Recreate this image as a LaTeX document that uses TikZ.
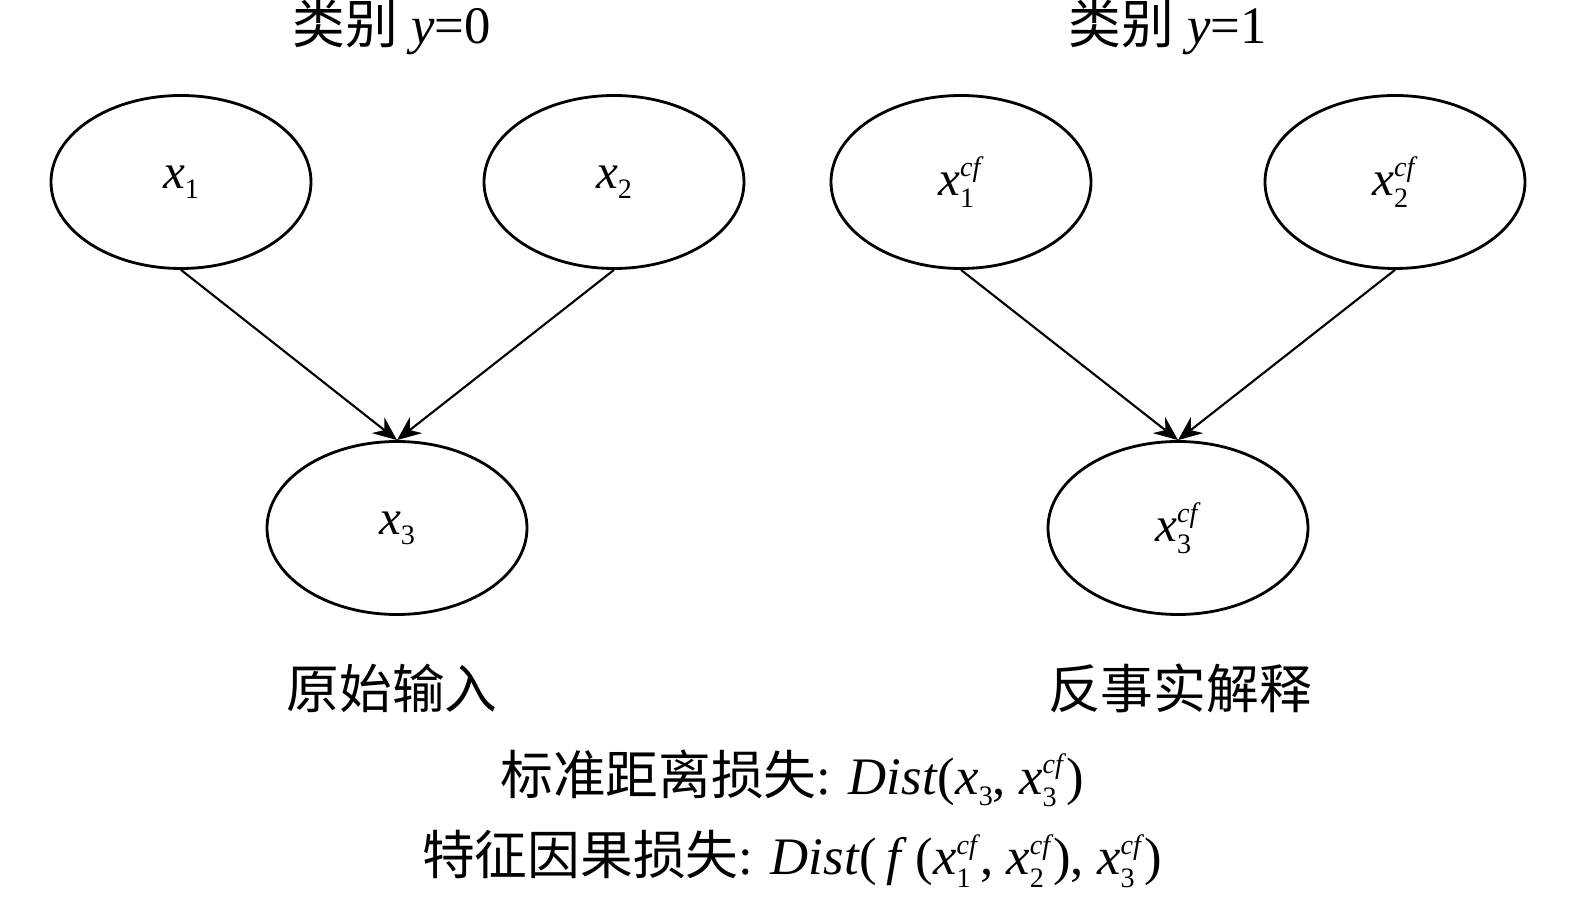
\documentclass[tikz,border=0pt]{standalone}
\usepackage{fontspec}
\setmainfont{Liberation Serif}
\newfontfamily\cjk{Noto Sans CJK SC}
\usetikzlibrary{arrows.meta,shapes.geometric}
% variable with subscript, and with subscript plus cf superscript
\newcommand{\xsub}[1]{\textit{x}\raisebox{-0.45ex}{\footnotesize #1}}
\newcommand{\xcf}[1]{\textit{x}\makebox[0pt][l]{\raisebox{-0.5ex}{\footnotesize #1}}\raisebox{0.85ex}{\footnotesize\textit{cf}}}
\begin{document}
\begin{tikzpicture}[
    every node/.style={font=\fontsize{15}{17}\selectfont},
    var/.style={draw, ellipse, line width=0.8pt, minimum width=2.6cm, minimum height=1.73cm, inner sep=0pt, font=\fontsize{14}{16}\selectfont},
    edge/.style={line width=0.6pt, -{Stealth[length=2.4mm,width=2mm]}}
  ]
  \useasboundingbox (0,0) rectangle (15.75,9.03);

  % original input
  \node[var] (x1) at (1.81,7.21) {\xsub{1}};
  \node[var] (x2) at (6.14,7.21) {\xsub{2}};
  \node[var] (x3) at (3.97,3.75) {\xsub{3}};

  % counterfactual explanation
  \node[var] (c1) at (9.61,7.21) {\xcf{1}};
  \node[var] (c2) at (13.95,7.21) {\xcf{2}};
  \node[var] (c3) at (11.78,3.75) {\xcf{3}};

  \draw[edge] (x1.south) -- (x3.north);
  \draw[edge] (x2.south) -- (x3.north);
  \draw[edge] (c1.south) -- (c3.north);
  \draw[edge] (c2.south) -- (c3.north);

  % labels
  \node (t0) at (3.92,8.76) {{\cjk 类别} \textit{y}=0};
  \node (t1) at (11.68,8.76) {{\cjk 类别} \textit{y}=1};
  \node (b0) at (3.92,2.15) {\cjk 原始输入};
  \node (b1) at (11.80,2.15) {\cjk 反事实解释};
  \node (l1) at (7.92,1.25) {{\cjk 标准距离损失}: \textit{Dist}(\xsub{3}, \xcf{3})};
  \node (l2) at (7.92,0.44) {{\cjk 特征因果损失}: \textit{Dist}(\,\textit{f}\,(\xcf{1}, \xcf{2}), \xcf{3})};
\end{tikzpicture}
\end{document}
